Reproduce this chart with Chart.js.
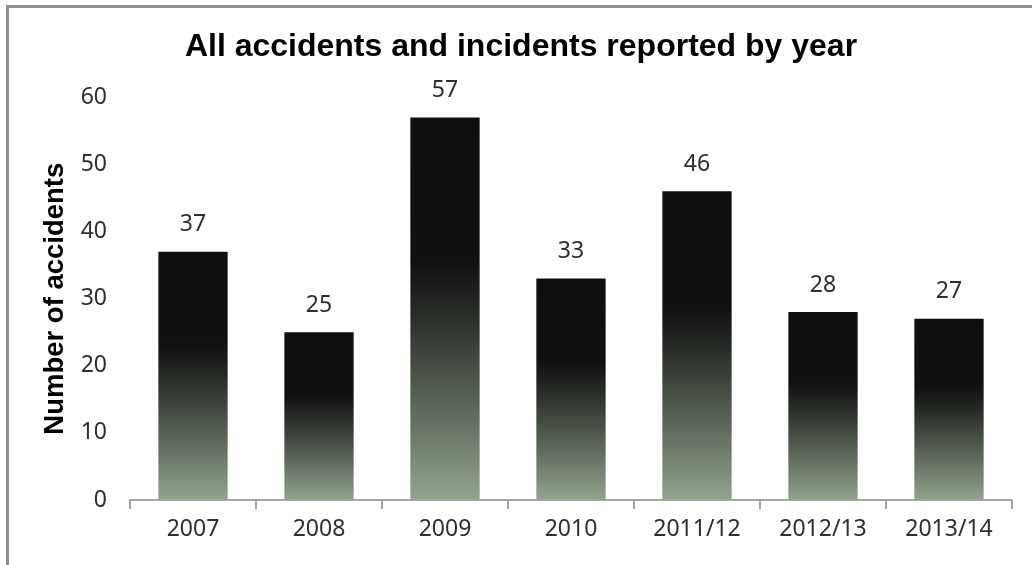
<!DOCTYPE html>
<html>
<head>
<meta charset="utf-8">
<script src="https://cdn.jsdelivr.net/npm/chart.js@4/dist/chart.umd.min.js"></script>
<style>
    html, body { margin: 0; padding: 0; background: #fff; overflow: hidden; }
    #wrap { position: relative; width: 1032px; height: 565px; }
    #frame {
        position: absolute; left: 6px; top: 5px; width: 1100px; height: 700px;
        border-top: 3px solid #8e8e8e; border-left: 3px solid #8e8e8e;
        pointer-events: none;
    }
    canvas { position: absolute; left: 0; top: 0; }
</style>
</head>
<body>
<div id="wrap">
    <canvas id="chart" width="1032" height="565"></canvas>
    <div id="frame"></div>
</div>
<script>
// Chart data
var years = ['2007', '2008', '2009', '2010', '2011/12', '2012/13', '2013/14'];
var accidents = [37, 25, 57, 33, 46, 28, 27];
var yTicks = [0, 10, 20, 30, 40, 50, 60];

var tickFont = { family: '"Noto Sans", sans-serif', size: 23 };
var textColor = '#2e2e2e';

// Each bar gets its own gradient: dark on top, grey-green at the base
var barFill = function(ctx) {
    var chart = ctx.chart;
    if (!chart.chartArea || ctx.type !== 'data') {
        return '#111111';
    }
    var yScale = chart.scales.y;
    var top = yScale.getPixelForValue(ctx.raw);
    var base = yScale.getPixelForValue(0);
    var g = chart.ctx.createLinearGradient(0, top, 0, base);
    g.addColorStop(0, '#0f0f0f');
    g.addColorStop(0.38, '#111111');
    g.addColorStop(0.5, '#262a25');
    g.addColorStop(0.75, '#5b6558');
    g.addColorStop(1, '#92a48e');
    return g;
};

// Value labels above the bars
var valueLabels = {
    id: 'valueLabels',
    afterDatasetsDraw: function(chart) {
        var ctx = chart.ctx;
        var meta = chart.getDatasetMeta(0);
        ctx.save();
        ctx.font = tickFont.size + 'px ' + tickFont.family;
        ctx.fillStyle = textColor;
        ctx.textAlign = 'center';
        ctx.textBaseline = 'middle';
        meta.data.forEach(function(bar, i) {
            ctx.fillText(String(accidents[i]), bar.x, bar.y - 27);
        });
        ctx.restore();
    }
};

var drawChart = function() {
    new Chart(document.getElementById('chart'), {
        type: 'bar',
        data: {
            labels: years,
            datasets: [{
                label: 'Number of accidents',
                data: accidents,
                backgroundColor: barFill,
                borderWidth: 0,
                barPercentage: 0.55,
                categoryPercentage: 1.0
            }]
        },
        options: {
            responsive: false,
            animation: false,
            devicePixelRatio: 1,
            layout: {
                padding: { left: 30, right: 20, top: 0, bottom: 0 }
            },
            plugins: {
                legend: { display: false },
                tooltip: { enabled: false },
                title: {
                    display: true,
                    text: 'All accidents and incidents reported by year',
                    color: '#000000',
                    font: { family: '"Liberation Sans", Arial, sans-serif', size: 32, weight: 'bold', lineHeight: 1.2 },
                    padding: { top: 28, bottom: 31 }
                }
            },
            scales: {
                x: {
                    afterFit: function(scale) { scale.height = 65; },
                    border: { display: true, color: '#a6a6a6', width: 2 },
                    grid: {
                        display: true,
                        offset: true,
                        drawOnChartArea: false,
                        drawTicks: true,
                        tickLength: 9,
                        color: '#a6a6a6',
                        lineWidth: 2
                    },
                    ticks: {
                        color: textColor,
                        font: tickFont,
                        padding: 7,
                        maxRotation: 0
                    }
                },
                y: {
                    min: 0,
                    max: 60,
                    afterFit: function(scale) { scale.width = 100; },
                    afterBuildTicks: function(scale) {
                        scale.ticks = yTicks.map(function(v) { return { value: v }; });
                    },
                    border: { display: false },
                    grid: { display: false, drawTicks: false },
                    ticks: {
                        color: textColor,
                        font: tickFont,
                        padding: 23
                    },
                    title: {
                        display: true,
                        text: 'Number of accidents',
                        color: '#000000',
                        font: { family: '"Liberation Sans", Arial, sans-serif', size: 27.5, weight: 'bold', lineHeight: 1.2 },
                        padding: { top: 9, bottom: 0 }
                    }
                }
            }
        },
        plugins: [valueLabels]
    });
};

// make sure the fonts are ready before the canvas draws
Promise.all([
    document.fonts.load('23px "Noto Sans"'),
    document.fonts.load('bold 32px "Liberation Sans"')
]).then(drawChart, drawChart);
</script>
</body>
</html>
